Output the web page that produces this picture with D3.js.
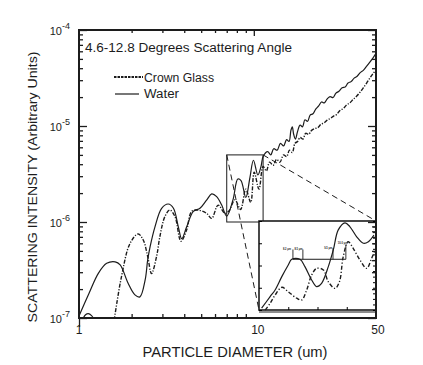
<!DOCTYPE html>
<html>
<head>
<meta charset="utf-8">
<script src="https://cdn.jsdelivr.net/npm/d3@7"></script>
<style>
  body { margin: 0; background: #fff; }
  text { font-family: "Liberation Sans", Arial, sans-serif; fill: #1c1c1c; }
</style>
</head>
<body>
<script>
// main curves (diameter in um, intensity arbitrary units)
var waterDiameter = [1.0, 1.14, 1.29, 1.44, 1.61, 1.72, 1.91, 2.09, 2.23, 2.39, 2.47, 2.55, 2.72, 2.97, 3.24, 3.47, 3.70, 3.87, 4.13, 4.51, 4.92, 5.37, 5.74, 6.13, 6.55, 7.0, 7.6, 8.1, 8.45, 9.0, 9.5, 9.95, 10.55, 11.0, 11.3,
  12.0, 12.5, 13.0, 13.6, 14.2, 14.8, 15.4, 15.9, 16.3, 16.6, 16.9, 17.3, 17.8, 18.4, 19.0, 19.6, 20.3, 21.0, 21.8, 22.6, 23.5, 24.4, 25.3, 26.3, 27.3, 28.4, 29.5, 30.7, 32.0, 33.3, 34.6, 36.0, 37.5, 39.0, 40.6, 42.3, 44.0, 46.0, 48.0, 50.0];
var waterIntensity = [1.05e-7, 1.8e-7, 2.92e-7, 3.71e-7, 3.85e-7, 3.57e-7, 2.3e-7, 1.74e-7, 1.66e-7, 2.49e-7, 4.0e-7, 5.5e-7, 8.9e-7, 1.39e-6, 1.54e-6, 1.39e-6, 8.9e-7, 6.7e-7, 8.9e-7, 1.29e-6, 1.39e-6, 1.69e-6, 1.96e-6, 1.84e-6, 1.5e-6, 1.15e-6, 1.7e-6, 2.8e-6, 2.7e-6, 1.8e-6, 2.9e-6, 4.4e-6, 3.1e-6, 3.8e-6, 4.8e-6,
  5.4e-6, 5.0e-6, 5.8e-6, 5.6e-6, 6.6e-6, 6.2e-6, 7.2e-6, 6.9e-6, 9.0e-6, 9.8e-6, 8.2e-6, 7.3e-6, 8.8e-6, 1.02e-5, 9.8e-6, 1.16e-5, 1.12e-5, 1.3e-5, 1.34e-5, 1.5e-5, 1.62e-5, 1.78e-5, 1.74e-5, 1.92e-5, 2.02e-5, 1.98e-5, 2.2e-5, 2.3e-5, 2.5e-5, 2.55e-5, 2.8e-5, 2.9e-5, 3.15e-5, 3.3e-5, 3.6e-5, 3.8e-5, 4.15e-5, 4.6e-5, 5.1e-5, 5.7e-5];

var glassDiameter = [1.59, 1.75, 1.96, 2.18, 2.33, 2.47, 2.6, 2.78, 2.9, 3.1, 3.31, 3.54, 3.83, 4.13, 4.41, 4.81, 5.37, 5.74, 6.25, 6.84, 7.2, 7.8, 8.4, 9.0, 9.6, 10.05, 10.7, 11.3,
  11.8, 12.3, 12.9, 13.5, 14.1, 14.8, 15.4, 16.0, 16.6, 17.2, 17.8, 18.4, 19.1, 19.8, 20.6, 21.4, 22.3, 23.2, 24.2, 25.2, 26.3, 27.4, 28.6, 29.8, 31.1, 32.5, 34.0, 35.5, 37.1, 38.8, 40.5, 42.3, 44.2, 46.1, 48.0, 50.0];
var glassIntensity = [0.95e-7, 2.7e-7, 6.0e-7, 7.5e-7, 6.5e-7, 4.4e-7, 2.9e-7, 4.4e-7, 7.0e-7, 1.14e-6, 1.33e-6, 1.14e-6, 6.3e-7, 8.3e-7, 1.29e-6, 1.33e-6, 1.23e-6, 1.09e-6, 1.5e-6, 1.23e-6, 1.3e-6, 1.7e-6, 1.35e-6, 2.2e-6, 1.6e-6, 3.3e-6, 2.2e-6, 3.8e-6,
  3.4e-6, 4.2e-6, 3.9e-6, 4.5e-6, 4.2e-6, 5.0e-6, 4.8e-6, 5.6e-6, 5.3e-6, 6.6e-6, 6.9e-6, 7.6e-6, 7.3e-6, 8.4e-6, 8.2e-6, 9.0e-6, 9.4e-6, 9.6e-6, 1.04e-5, 1.08e-5, 1.15e-5, 1.2e-5, 1.27e-5, 1.32e-5, 1.45e-5, 1.52e-5, 1.66e-5, 1.75e-5, 1.9e-5, 2.05e-5, 2.25e-5, 2.5e-5, 2.8e-5, 3.15e-5, 3.5e-5, 3.83e-5];

// little blip of crown glass near the bottom-left corner
var glassBlipDiameter = [1.05, 1.09, 1.13, 1.18, 1.22];
var glassBlipIntensity = [0.97e-7, 1.08e-7, 1.11e-7, 1.06e-7, 0.97e-7];

// zoomed region of the main plot
var zoomDiameter = [7.0, 11.3];
var zoomIntensity = [1e-6, 5e-6];

// inset curves (intensity in units of 1e-6)
var insetWaterDiameter = [7.09, 7.38, 7.55, 7.78, 8.0, 8.12, 8.40, 8.57, 8.80, 8.97, 9.14, 9.37, 9.54, 9.71, 9.94, 10.11, 10.34, 10.57, 10.74, 10.93];
var insetWaterIntensity = [1.08, 1.60, 1.90, 2.50, 3.02, 3.28, 3.28, 2.95, 2.35, 2.05, 2.20, 2.95, 3.70, 4.60, 4.92, 4.74, 4.29, 4.00, 4.07, 4.37];
var insetGlassDiameter = [7.21, 7.38, 7.55, 7.78, 8.0, 8.29, 8.46, 8.63, 8.80, 8.97, 9.2, 9.37, 9.6, 9.75, 9.88, 10.05, 10.22, 10.45, 10.68, 10.85, 10.97];
var insetGlassIntensity = [1.0, 1.30, 1.67, 2.02, 1.82, 1.53, 1.45, 1.90, 2.57, 2.87, 2.80, 2.27, 1.97, 2.27, 3.40, 4.07, 3.77, 3.25, 2.87, 3.32, 3.70];

// peak markers in the inset
var markDiameter = [8.16, 8.5, 9.53, 9.97];
var markTop = [3.72, 3.72, 3.78, 3.92];
var markLabels = ["8.2 μm", "8.5 μm", "9.5 μm", "10.0 μm"];
var markBar = 3.28;

var yTickValues = [1e-7, 1e-6, 1e-5, 1e-4];
var yTickExponents = ["-7", "-6", "-5", "-4"];
var xTickValues = [1, 10, 50];
var xTickLabels = ["1", "10", "50"];

var W = 423, H = 365;
var plot = { left: 79, top: 30, right: 376, bottom: 318 };
var inset = { left: 259, top: 221, right: 376, bottom: 310 };
var ink = "#1c1c1c";

var svg = d3.select("body").append("svg")
    .attr("width", W)
    .attr("height", H);

var x = d3.scaleLog().domain([1, 50]).range([plot.left, plot.right]);
var y = d3.scaleLog().domain([1e-7, 1e-4]).range([plot.bottom, plot.top]);
var ix = d3.scaleLinear().domain([7, 11]).range([inset.left, inset.right]);
var iy = d3.scaleLinear().domain([1, 5]).range([inset.bottom, inset.top]);

svg.append("clipPath").attr("id", "plotClip")
  .append("rect")
    .attr("x", plot.left).attr("y", plot.top)
    .attr("width", plot.right - plot.left).attr("height", plot.bottom - plot.top);

function pairs(a, b) { return a.map(function (d, i) { return [d, b[i]]; }); }

var mainLine = d3.line()
    .x(function (d) { return x(d[0]); })
    .y(function (d) { return y(d[1]); })
    .curve(d3.curveCatmullRom.alpha(0.5));

var insetLine = d3.line()
    .x(function (d) { return ix(d[0]); })
    .y(function (d) { return iy(d[1]); })
    .curve(d3.curveCatmullRom.alpha(0.5));

var curves = svg.append("g").attr("clip-path", "url(#plotClip)");

curves.append("path")
    .datum(pairs(waterDiameter, waterIntensity))
    .attr("d", mainLine)
    .attr("fill", "none").attr("stroke", ink).attr("stroke-width", 1.2);

curves.append("path")
    .datum(pairs(glassDiameter, glassIntensity))
    .attr("d", mainLine)
    .attr("fill", "none").attr("stroke", ink).attr("stroke-width", 1.4)
    .attr("stroke-dasharray", "4,1.5,1.2,1.5");

curves.append("path")
    .datum(pairs(glassBlipDiameter, glassBlipIntensity))
    .attr("d", mainLine)
    .attr("fill", "none").attr("stroke", ink).attr("stroke-width", 1.2);

// zoom box and connectors
var zx0 = x(zoomDiameter[0]), zx1 = x(zoomDiameter[1]);
var zy0 = y(zoomIntensity[1]), zy1 = y(zoomIntensity[0]);

svg.append("rect")
    .attr("x", zx0).attr("y", zy0)
    .attr("width", zx1 - zx0).attr("height", zy1 - zy0)
    .attr("fill", "none").attr("stroke", ink).attr("stroke-width", 1);

svg.append("line")
    .attr("x1", zx0).attr("y1", zy0).attr("x2", inset.left).attr("y2", inset.bottom)
    .attr("stroke", ink).attr("stroke-width", 1).attr("stroke-dasharray", "6,4");
svg.append("line")
    .attr("x1", zx1).attr("y1", zy0).attr("x2", inset.right).attr("y2", inset.top)
    .attr("stroke", ink).attr("stroke-width", 1).attr("stroke-dasharray", "6,4");

// inset
var gi = svg.append("g");
gi.append("rect")
    .attr("x", inset.left).attr("y", inset.top)
    .attr("width", inset.right - inset.left).attr("height", inset.bottom - inset.top)
    .attr("fill", "#fff").attr("stroke", ink).attr("stroke-width", 1.6);
gi.append("line")
    .attr("x1", inset.left).attr("x2", inset.right)
    .attr("y1", inset.bottom + 2).attr("y2", inset.bottom + 2)
    .attr("stroke", ink).attr("stroke-width", 1);

gi.append("g")
    .attr("transform", "translate(" + inset.left + ",0)")
    .call(d3.axisRight(iy).tickValues([1, 2, 3, 4, 5]).tickSize(3).tickFormat(""))
    .call(function (g) { g.select(".domain").remove(); });
gi.append("g")
    .attr("transform", "translate(" + inset.right + ",0)")
    .call(d3.axisLeft(iy).tickValues(d3.range(1, 5.01, 0.25)).tickSize(3).tickFormat(""))
    .call(function (g) { g.select(".domain").remove(); });
gi.append("g")
    .attr("transform", "translate(0," + inset.bottom + ")")
    .call(d3.axisTop(ix).tickValues([8, 9, 10]).tickSize(3).tickFormat(""))
    .call(function (g) { g.select(".domain").remove(); });

gi.append("path")
    .datum(pairs(insetWaterDiameter, insetWaterIntensity))
    .attr("d", insetLine)
    .attr("fill", "none").attr("stroke", ink).attr("stroke-width", 1.2);
gi.append("path")
    .datum(pairs(insetGlassDiameter, insetGlassIntensity))
    .attr("d", insetLine)
    .attr("fill", "none").attr("stroke", ink).attr("stroke-width", 1.4)
    .attr("stroke-dasharray", "4,2,1.2,2");

gi.append("line")
    .attr("x1", ix(markDiameter[0])).attr("x2", ix(markDiameter[3]))
    .attr("y1", iy(markBar)).attr("y2", iy(markBar))
    .attr("stroke", ink).attr("stroke-width", 1);
var markShift = [-2, -0.4, -0.8, 2];
var markRise = [0.5, 1, 1, -1];
markDiameter.forEach(function (d, i) {
  gi.append("line")
      .attr("x1", ix(d)).attr("x2", ix(d))
      .attr("y1", iy(markBar)).attr("y2", iy(markTop[i]))
      .attr("stroke", ink).attr("stroke-width", 0.9);
  gi.append("text")
      .attr("x", ix(d) + markShift[i])
      .attr("y", iy(markTop[i]) + markRise[i])
      .attr("text-anchor", "end")
      .attr("font-size", 3.8)
      .attr("font-weight", "bold")
      .attr("textLength", i === 3 ? 10 : 8).attr("lengthAdjust", "spacingAndGlyphs")
      .text(markLabels[i]);
});

// main frame and ticks
svg.append("rect")
    .attr("x", plot.left).attr("y", plot.top)
    .attr("width", plot.right - plot.left).attr("height", plot.bottom - plot.top)
    .attr("fill", "none").attr("stroke", ink).attr("stroke-width", 2);

var yMinor = y.ticks().filter(function (d) { return yTickValues.indexOf(d) < 0; });
var xMinor = [2, 3, 4, 5, 6, 7, 8, 9];

function tickAxis(axis, tx, ty) {
  svg.append("g")
      .attr("transform", "translate(" + tx + "," + ty + ")")
      .call(axis)
      .call(function (g) {
        g.select(".domain").remove();
        g.selectAll(".tick line").attr("stroke", ink).attr("stroke-width", 1.3);
      });
}
tickAxis(d3.axisRight(y).tickValues(yMinor).tickSize(4).tickFormat(""), plot.left, 0);
tickAxis(d3.axisRight(y).tickValues(yTickValues).tickSize(8).tickFormat(""), plot.left, 0);
tickAxis(d3.axisLeft(y).tickValues(yMinor).tickSize(4).tickFormat(""), plot.right, 0);
tickAxis(d3.axisLeft(y).tickValues(yTickValues).tickSize(8).tickFormat(""), plot.right, 0);
tickAxis(d3.axisTop(x).tickValues(xMinor).tickSize(4).tickFormat(""), 0, plot.bottom);
tickAxis(d3.axisBottom(x).tickValues(xMinor).tickSize(3).tickFormat(""), 0, plot.top);
tickAxis(d3.axisBottom(x).tickValues([10]).tickSize(6).tickFormat(""), 0, plot.top);
tickAxis(d3.axisBottom(x).tickValues([1]).tickSize(9).tickFormat(""), 0, plot.bottom);

// tick labels
yTickValues.forEach(function (v, i) {
  var t = svg.append("text")
      .attr("x", plot.left - 9)
      .attr("y", y(v) + 5)
      .attr("text-anchor", "end")
      .attr("font-size", 11);
  t.append("tspan").text("10");
  t.append("tspan").attr("font-size", 9).attr("dy", -6).text(yTickExponents[i]);
});

xTickValues.forEach(function (v, i) {
  svg.append("text")
      .attr("x", x(v) + (i === 1 ? 4 : (i === 2 ? 2 : 0)))
      .attr("y", 334)
      .attr("text-anchor", "middle")
      .attr("font-size", 12)
      .text(xTickLabels[i]);
});

// axis titles
svg.append("text")
    .attr("x", 235).attr("y", 357)
    .attr("text-anchor", "middle")
    .attr("font-size", 14)
    .attr("textLength", 185).attr("lengthAdjust", "spacingAndGlyphs")
    .text("PARTICLE DIAMETER (um)");

svg.append("text")
    .attr("transform", "translate(37,187) rotate(-90)")
    .attr("text-anchor", "middle")
    .attr("font-size", 13)
    .attr("textLength", 271).attr("lengthAdjust", "spacingAndGlyphs")
    .text("SCATTERING INTENSITY (Arbitrary Units)");

// title and legend
svg.append("text")
    .attr("x", 85).attr("y", 52)
    .attr("font-size", 12.5)
    .attr("textLength", 207).attr("lengthAdjust", "spacingAndGlyphs")
    .text("4.6-12.8 Degrees Scattering Angle");

svg.append("line")
    .attr("x1", 114).attr("x2", 143).attr("y1", 77).attr("y2", 77)
    .attr("stroke", ink).attr("stroke-width", 1.8).attr("stroke-dasharray", "2.5,1");
svg.append("text")
    .attr("x", 144).attr("y", 81.5)
    .attr("font-size", 12)
    .attr("textLength", 70).attr("lengthAdjust", "spacingAndGlyphs")
    .text("Crown Glass");

svg.append("line")
    .attr("x1", 115).attr("x2", 139).attr("y1", 94).attr("y2", 94)
    .attr("stroke", ink).attr("stroke-width", 1.2);
svg.append("text")
    .attr("x", 144).attr("y", 98)
    .attr("font-size", 12)
    .attr("textLength", 35).attr("lengthAdjust", "spacingAndGlyphs")
    .text("Water");
</script>
</body>
</html>
